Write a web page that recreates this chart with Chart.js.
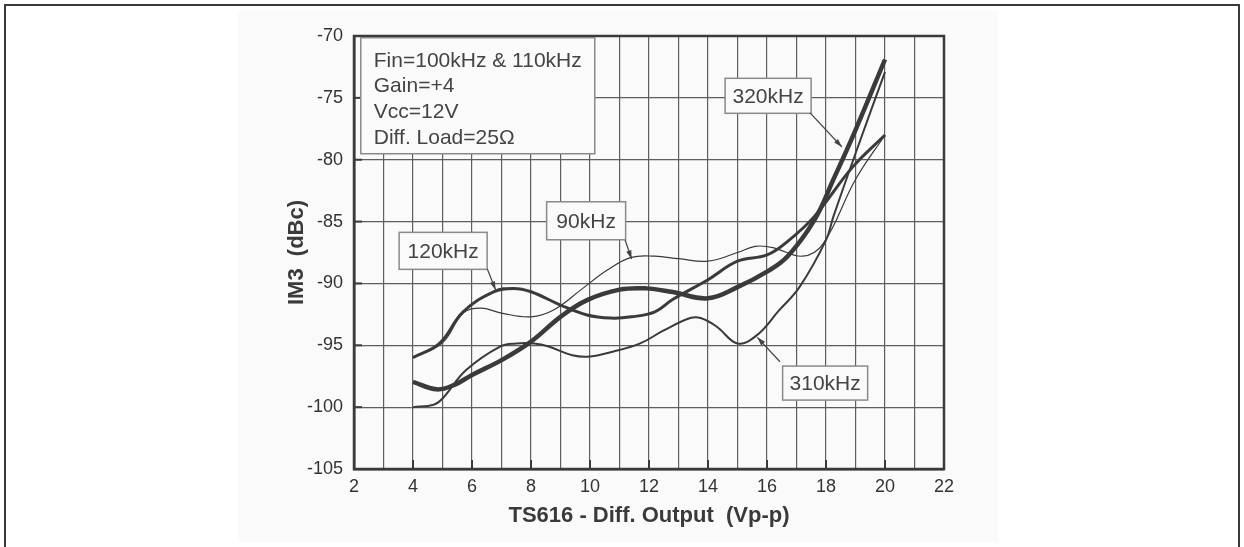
<!DOCTYPE html>
<html>
<head>
<meta charset="utf-8">
<title>TS616 IM3 vs Diff. Output</title>
<script src="https://cdn.jsdelivr.net/npm/chart.js@4.4.1/dist/chart.umd.min.js"></script>
<style>
  html, body { margin: 0; padding: 0; background: #fff; }
  #wrap { width: 1244px; height: 547px; position: relative; }
</style>
</head>
<body>
<div id="wrap"><canvas id="chart" width="1244" height="547"></canvas></div>
<script>
// values (x in Vp-p, y in dBc)
const x90  = [4, 5, 5.7, 6.3, 7, 8, 8.8, 9.7, 10.6, 11.4, 12.2, 13, 14, 15, 15.6, 16.2, 17.2, 17.9, 19, 20];
const y90  = [-96, -94.8, -92.4, -92.0, -92.4, -92.7, -92.1, -90.5, -88.9, -87.9, -87.8, -88.0, -88.2, -87.5, -87.0, -87.1, -87.8, -86.8, -81.6, -78];

const x120 = [4, 4.9, 5.7, 6.75, 7.4, 8, 9, 9.9, 10.7, 11.4, 12.2, 12.8, 14, 15, 16, 16.7, 17.6, 18.9, 20];
const y120 = [-96, -94.85, -92.3, -90.67, -90.4, -90.67, -91.75, -92.55, -92.8, -92.7, -92.3, -91.3, -89.7, -88.2, -87.7, -86.6, -84.6, -80.6, -78];

const x310 = [4, 4.7, 5, 5.8, 6.95, 7.5, 8.1, 8.6, 9.4, 10, 10.8, 11.7, 12.5, 13.4, 13.75, 14.3, 15, 15.65, 16.4, 17.1, 18, 18.25, 19, 20];
const y310 = [-100, -99.8, -99.3, -97, -95.1, -94.85, -94.85, -95.1, -95.8, -95.9, -95.5, -94.85, -93.8, -92.8, -92.8, -93.5, -94.85, -94.2, -92.2, -90.3, -86.5, -84.6, -79.5, -72.9];

const x320 = [4, 4.8, 5.4, 6, 7, 8, 9, 9.9, 11, 11.9, 12.8, 14, 15, 16, 16.7, 17.6, 18.25, 19, 20];
const y320 = [-97.95, -98.56, -98.2, -97.4, -96.2, -94.7, -92.7, -91.35, -90.5, -90.4, -90.7, -91.2, -90.3, -89.05, -87.8, -84.9, -81.6, -77.6, -71.9];

const infoLines = ['Fin=100kHz & 110kHz', 'Gain=+4', 'Vcc=12V', 'Diff. Load=25\u03A9'];

// callout labels: box corner and arrow in data units
const callouts = [
  { text: '320kHz', x: 14.58, y: -73.42, w: 86, h: 35, ax0: 17.46, ay0: -76.22, ax1: 18.54, ay1: -78.97 },
  { text: '90kHz',  x: 8.53,  y: -83.4,  w: 79, h: 38, ax0: 11.19, ay0: -86.49, ax1: 11.41, ay1: -88.03 },
  { text: '120kHz', x: 3.53,  y: -85.87, w: 88, h: 37, ax0: 6.52,  ay0: -88.84, ax1: 6.80,  ay1: -90.53 },
  { text: '310kHz', x: 16.53, y: -96.68, w: 85, h: 34, ax0: 16.44, ay0: -96.33, ax1: 15.67, ay1: -94.36 }
];

const INK = '#3a3a3a';

function pts(xs, ys) {
  return xs.map((x, i) => ({ x: x, y: ys[i] }));
}

function series(label, xs, ys, width) {
  return {
    label: label,
    data: pts(xs, ys),
    borderColor: INK,
    borderWidth: width,
    borderJoinStyle: 'round',
    pointRadius: 0,
    fill: false,
    tension: 0.4
  };
}

const decor = {
  id: 'decor',
  beforeDraw(chart) {
    const c = chart.ctx;
    c.save();
    c.fillStyle = '#fff';
    c.fillRect(0, 0, chart.width, chart.height);
    c.fillStyle = '#fafafa';
    c.fillRect(238, 11, 760, 531);
    c.strokeStyle = INK;
    c.lineWidth = 2;
    c.strokeRect(5, 5, 1234, 546);
    c.restore();
  },
  afterDatasetsDraw(chart) {
    const c = chart.ctx;
    const a = chart.chartArea;
    const xs = chart.scales.x, ys = chart.scales.y;
    c.save();
    // plot frame
    c.strokeStyle = INK;
    c.lineWidth = 2.5;
    c.strokeRect(a.left, a.top, a.right - a.left, a.bottom - a.top);
    // short inner ticks at labelled values
    c.lineWidth = 2;
    for (let v = 4; v < 22; v += 2) {
      const px = xs.getPixelForValue(v);
      c.beginPath(); c.moveTo(px, a.bottom); c.lineTo(px, a.bottom - 9); c.stroke();
    }
    for (let v = -100; v < -70; v += 5) {
      const py = ys.getPixelForValue(v);
      c.beginPath(); c.moveTo(a.left, py); c.lineTo(a.left + 8, py); c.stroke();
    }

    // info box
    const bx = xs.getPixelForValue(2.23), by = ys.getPixelForValue(-70.14);
    c.fillStyle = '#fafafa';
    c.fillRect(bx, by, 234, 116);
    c.strokeStyle = '#8a8a8a';
    c.lineWidth = 1.5;
    c.strokeRect(bx, by, 234, 116);
    c.fillStyle = '#444';
    c.font = '21px "Liberation Sans", Arial, sans-serif';
    c.textBaseline = 'middle';
    c.textAlign = 'left';
    infoLines.forEach((t, i) => c.fillText(t, bx + 13, by + 23 + i * 25.8));

    // callouts
    callouts.forEach(o => {
      const x0 = xs.getPixelForValue(o.x), y0 = ys.getPixelForValue(o.y);
      c.fillStyle = '#fafafa';
      c.fillRect(x0, y0, o.w, o.h);
      c.strokeStyle = '#8a8a8a';
      c.lineWidth = 1.5;
      c.strokeRect(x0, y0, o.w, o.h);
      c.fillStyle = '#444';
      c.textAlign = 'center';
      c.fillText(o.text, x0 + o.w / 2, y0 + o.h / 2 + 1);
      // arrow
      const p0 = [xs.getPixelForValue(o.ax0), ys.getPixelForValue(o.ay0)];
      const p1 = [xs.getPixelForValue(o.ax1), ys.getPixelForValue(o.ay1)];
      c.strokeStyle = '#444';
      c.lineWidth = 1.2;
      c.beginPath(); c.moveTo(p0[0], p0[1]); c.lineTo(p1[0], p1[1]); c.stroke();
      const ang = Math.atan2(p1[1] - p0[1], p1[0] - p0[0]);
      c.fillStyle = '#444';
      c.beginPath();
      c.moveTo(p1[0], p1[1]);
      c.lineTo(p1[0] - 9 * Math.cos(ang - 0.3), p1[1] - 9 * Math.sin(ang - 0.3));
      c.lineTo(p1[0] - 9 * Math.cos(ang + 0.3), p1[1] - 9 * Math.sin(ang + 0.3));
      c.closePath();
      c.fill();
    });
    c.restore();
  }
};

const tickFont = { family: '"Liberation Sans", Arial, sans-serif', size: 18 };
const titleFont = { family: '"Liberation Sans", Arial, sans-serif', size: 22, weight: 'bold' };

new Chart(document.getElementById('chart'), {
  type: 'line',
  data: {
    datasets: [
      series('90kHz', x90, y90, 1.2),
      series('310kHz', x310, y310, 2),
      series('120kHz', x120, y120, 3),
      series('320kHz', x320, y320, 4.5)
    ]
  },
  options: {
    responsive: false,
    animation: false,
    events: [],
    layout: { padding: { left: 280, top: 36, right: 300, bottom: 0 } },
    plugins: { legend: { display: false }, tooltip: { enabled: false } },
    scales: {
      x: {
        type: 'linear',
        min: 2,
        max: 22,
        afterFit: s => { s.height = 78; },
        ticks: {
          stepSize: 1,
          autoSkip: false,
          maxRotation: 0,
          padding: 7,
          color: '#333',
          font: tickFont,
          callback: v => (v % 2 === 0 ? String(v) : '')
        },
        grid: { color: '#5e5e5e', lineWidth: 1.2, drawTicks: false },
        border: { color: INK, width: 2.5 },
        title: {
          display: true,
          text: 'TS616 - Diff. Output  (Vp-p)',
          color: '#3a3a3a',
          font: titleFont,
          padding: { top: 0, bottom: 18 }
        }
      },
      y: {
        min: -105,
        max: -70,
        afterFit: s => { s.width = 74; },
        ticks: { stepSize: 5, padding: 11, color: '#333', font: tickFont },
        grid: { color: '#5e5e5e', lineWidth: 1.2, drawTicks: false },
        border: { color: INK, width: 2.5 },
        title: {
          display: true,
          text: 'IM3  (dBc)',
          color: '#3a3a3a',
          font: titleFont,
          padding: { top: 4, bottom: 0 }
        }
      }
    }
  },
  plugins: [decor]
});
</script>
</body>
</html>
